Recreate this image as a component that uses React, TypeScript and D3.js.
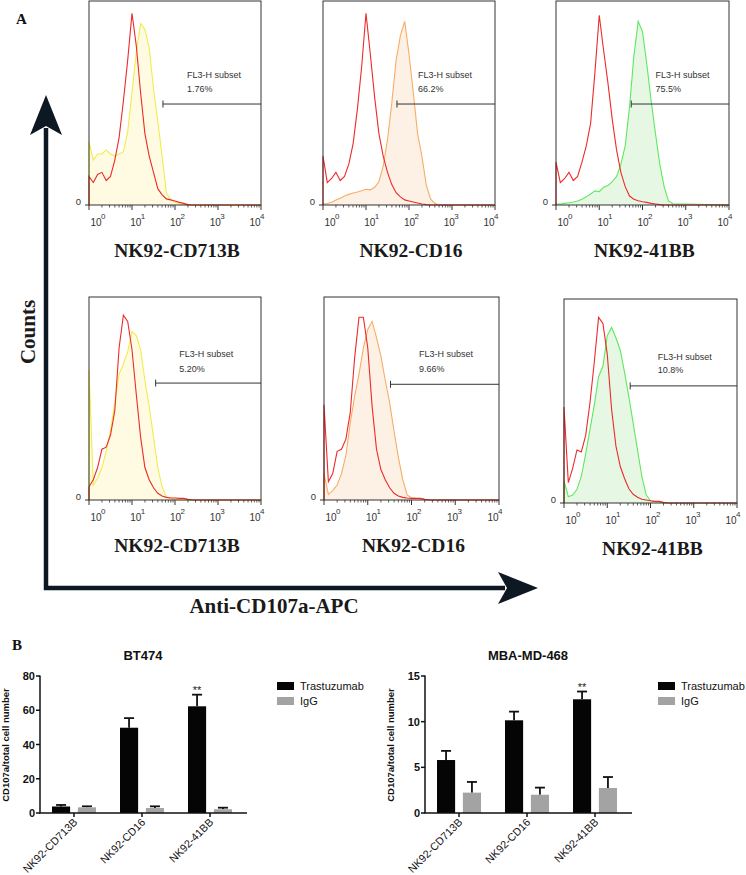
import React from 'react';
import * as d3 from 'd3';

// ---------- Panel A: flow cytometry histograms (x in log10 units, counts in % of max) ----------
const binLog = [0, 0.1, 0.2, 0.3, 0.4, 0.5, 0.6, 0.7, 0.8, 0.9, 1.0, 1.1, 1.2, 1.3, 1.4, 1.5, 1.6, 1.7, 1.8, 1.9, 2.0, 2.1, 2.2, 2.3, 2.4, 2.5, 2.6, 2.7];

const ctrlTop1 = [14, 11, 15, 16, 12, 14, 22, 33, 51, 71, 94, 78, 55, 35, 24, 16, 8, 5, 3, 2.5, 2, 1.3, 0.8, 0.2, 0, 0, 0, 0];
const stainTop1 = [31, 22, 25, 25, 27, 25, 24, 25, 26, 36, 55, 75, 89, 86, 77, 57, 41, 24, 6, 2.5, 1.3, 0.6, 0.3, 0, 0, 0, 0, 0];
const ctrlTop2 = [24, 11, 13, 16, 12, 14, 20, 30, 47, 68, 94, 74, 53, 35, 24, 16, 10, 6, 4, 2.5, 2, 1.5, 1, 0.5, 0.2, 0, 0, 0];
const stainTop2 = [0.5, 0.7, 1.3, 2.5, 3.3, 4.4, 5.2, 5.9, 6.4, 7, 7.7, 7.4, 8.7, 11.4, 19, 32, 50, 71, 83, 90, 74, 55, 35, 24, 10, 3, 0.8, 0];
const ctrlTop3 = [21, 11, 13, 16, 12, 14, 21, 29, 40, 65, 93, 76, 60, 42, 27, 16, 9, 4.4, 2.8, 2.1, 1.6, 1.3, 0.8, 0.5, 0.2, 0, 0, 0];
const stainTop3 = [0.5, 0.5, 0.8, 1.1, 1.5, 2, 2.8, 4, 5.4, 6.9, 6.5, 8.7, 9.5, 11.4, 14, 20, 29, 48, 73, 90, 85, 69, 51, 35, 20, 9, 2, 0.6];
const ctrlBot1 = [6.5, 10, 16, 25, 26, 32, 44, 75, 91, 88, 74, 52, 31, 16, 10, 6, 3.3, 2, 1.3, 1, 1, 0.8, 0.8, 0.3, 0, 0, 0, 0];
const stainBot1 = [64, 7.4, 10.7, 16, 24, 34, 48, 62, 67, 73, 83, 81, 74, 59, 46, 31, 16, 6.5, 1.6, 0.7, 0.3, 0, 0, 0, 0, 0, 0, 0];
const ctrlBot2 = [47, 9, 13, 24, 25, 30, 43, 70, 90, 90, 75, 46, 25, 15, 10, 6, 3.3, 2, 1.3, 1, 0.8, 0.8, 0.8, 0.3, 0, 0, 0, 0];
const stainBot2 = [13, 2.8, 4.6, 7.4, 13, 22, 38, 51, 62, 75, 84, 88, 80, 71, 59, 48, 34, 21, 10, 2.5, 1.1, 0.8, 0.7, 0.3, 0, 0, 0, 0];
const ctrlBot3 = [47, 10, 17, 26, 25, 33, 49, 69, 91, 88, 73, 46, 28, 18, 12, 7, 4.3, 2.8, 1.8, 1.5, 1.1, 0.8, 0.8, 0.3, 0, 0, 0, 0];
const stainBot3 = [11, 3.1, 3.9, 6.7, 13, 24, 36, 48, 62, 67, 82, 86, 81, 75, 64, 52, 39, 26, 13, 4, 1.1, 0.7, 0.5, 0, 0, 0, 0, 0];

const histTitles = ['NK92-CD713B', 'NK92-CD16', 'NK92-41BB', 'NK92-CD713B', 'NK92-CD16', 'NK92-41BB'];
const gatePercents = ['1.76%', '66.2%', '75.5%', '5.20%', '9.66%', '10.8%'];
const gateStarts = [1.72, 1.72, 1.74, 1.55, 1.52, 1.53];
const decadeExps = [0, 1, 2, 3, 4];

// ---------- Panel B: bar charts ----------
const categories = ['NK92-CD713B', 'NK92-CD16', 'NK92-41BB'];
const seriesNames = ['Trastuzumab', 'IgG'];
const bt474Tras = [3.8, 49.8, 62.3];
const bt474TrasErr = [0.9, 5.6, 6.8];
const bt474IgG = [3.3, 2.9, 2.2];
const bt474IgGErr = [0.6, 1.0, 0.9];
const bt474Ticks = [0, 20, 40, 60, 80];
const mbaTras = [5.8, 10.15, 12.45];
const mbaTrasErr = [1.0, 0.95, 0.85];
const mbaIgG = [2.23, 2.0, 2.74];
const mbaIgGErr = [1.17, 0.78, 1.2];
const mbaTicks = [0, 5, 10, 15];

const SERIF = '"Liberation Serif", "Times New Roman", serif';
const SANS = 'Arial, "Liberation Sans", sans-serif';
const NARROW = '"Liberation Sans Narrow", "Arial Narrow", Arial, "Liberation Sans", sans-serif';

type PanelLayout = { x0: number; x1: number; y0: number; y1: number; textLog: number; gateY: number; textY1: number; textY2: number };

const panelLayouts: PanelLayout[] = [
  { x0: 89, x1: 261, y0: 1, y1: 205, textLog: 2.28, gateY: 49.5, textY1: 62.3, textY2: 55.4 },
  { x0: 323, x1: 495, y0: 1, y1: 205, textLog: 2.21, gateY: 49.5, textY1: 62.3, textY2: 55.4 },
  { x0: 556, x1: 729, y0: 1, y1: 205, textLog: 2.3, gateY: 49.5, textY1: 62.3, textY2: 55.4 },
  { x0: 89, x1: 261, y0: 297, y1: 500, textLog: 2.1, gateY: 57.6, textY1: 70.4, textY2: 63 },
  { x0: 324, x1: 499, y0: 297, y1: 500, textLog: 2.17, gateY: 57, textY1: 70.4, textY2: 63 },
  { x0: 564, x1: 737, y0: 299, y1: 503, textLog: 2.17, gateY: 57.4, textY1: 70, textY2: 63.7 },
];

const curveData = [
  [ctrlTop1, stainTop1],
  [ctrlTop2, stainTop2],
  [ctrlTop3, stainTop3],
  [ctrlBot1, stainBot1],
  [ctrlBot2, stainBot2],
  [ctrlBot3, stainBot3],
];

const stainColors = [
  { line: '#f1ec4c', fill: '#fffbe2' },
  { line: '#f7ad66', fill: '#fdf0e4' },
  { line: '#5fe85f', fill: '#e6f8e4' },
  { line: '#f1ec4c', fill: '#fffbe2' },
  { line: '#f7ad66', fill: '#fdf0e4' },
  { line: '#5fe85f', fill: '#e6f8e4' },
];
const ctrlColor = '#ee2a2a';

function Hist({ idx }: { idx: number }) {
  const L = panelLayouts[idx];
  const [ctrl, stain] = curveData[idx];
  const x = d3.scaleLinear().domain([0, 4]).range([L.x0, L.x1]);
  const xl = d3.scaleLog().domain([1, 1e4]).range([L.x0, L.x1]);
  const y = d3.scaleLinear().domain([0, 100]).range([L.y1, L.y0]);
  const pts = (vals: number[]) => [[0, 0], ...binLog.map((l, i) => [l, vals[i]]), [4, 0]] as [number, number][];
  const line = d3.line<[number, number]>().x(d => x(d[0])).y(d => y(d[1]));
  const area = d3.area<[number, number]>().x(d => x(d[0])).y0(y(0)).y1(d => y(d[1]));
  const minor: number[] = [];
  for (let d = 0; d < 4; d++) for (let m = 2; m <= 9; m++) minor.push(m * Math.pow(10, d));
  const c = stainColors[idx];
  const labelStep = (L.x1 - L.x0 - 13) / 4;
  const gx = x(gateStarts[idx]);
  const gy = y(L.gateY);
  return (
    <g>
      <path d={area(pts(stain)) || ''} fill={c.fill} stroke="none" />
      <path d={line(pts(stain)) || ''} fill="none" stroke={c.line} strokeWidth={1.1} />
      <path d={line(pts(ctrl)) || ''} fill="none" stroke={ctrlColor} strokeWidth={1.1} />
      <rect x={L.x0} y={L.y0} width={L.x1 - L.x0} height={L.y1 - L.y0} fill="none" stroke="#333" strokeWidth={1} />
      {/* gate */}
      <line x1={gx} x2={L.x1} y1={gy} y2={gy} stroke="#333" strokeWidth={1} />
      <line x1={gx} x2={gx} y1={gy - 3.5} y2={gy + 3.5} stroke="#333" strokeWidth={1} />
      <text x={x(L.textLog)} y={y(L.textY1)} fontFamily={NARROW} fontSize={9} fill="#333">FL3-H subset</text>
      <text x={x(L.textLog)} y={y(L.textY2)} fontFamily={NARROW} fontSize={9} fill="#333">{gatePercents[idx]}</text>
      {/* y zero label */}
      <line x1={L.x0 - 4} x2={L.x0} y1={L.y1} y2={L.y1} stroke="#333" strokeWidth={1} />
      <text x={L.x0 - 8} y={L.y1} textAnchor="end" fontFamily={NARROW} fontSize={9.5} fill="#333">0</text>
      {/* x ticks */}
      {decadeExps.map(e => (
        <line key={'M' + e} x1={xl(Math.pow(10, e))} x2={xl(Math.pow(10, e))} y1={L.y1} y2={L.y1 + 5} stroke="#333" strokeWidth={1} />
      ))}
      {minor.map(v => (
        <line key={'m' + v} x1={xl(v)} x2={xl(v)} y1={L.y1} y2={L.y1 + 2.5} stroke="#333" strokeWidth={0.8} />
      ))}
      {decadeExps.map((e, i) => {
        const lx = L.x0 + 7 + i * labelStep;
        return (
          <g key={'t' + e}>
            <text x={lx} y={L.y1 + 21} textAnchor="middle" fontFamily={NARROW} fontSize={10} fill="#333">10</text>
            <text x={lx + 5} y={L.y1 + 14} fontFamily={NARROW} fontSize={8} fill="#333">{e}</text>
          </g>
        );
      })}
      <text x={(L.x0 + L.x1) / 2 + 2} y={L.y1 + 52} textAnchor="middle" fontFamily={SERIF} fontWeight="bold" fontSize={19.5} fill="#1a1a1a">{histTitles[idx]}</text>
    </g>
  );
}

type BarProps = {
  title: string; tras: number[]; trasErr: number[]; igg: number[]; iggErr: number[];
  yMax: number; ticks: number[]; ax: number; star: number; legendX: number;
};

function BarChart({ title, tras, trasErr, igg, iggErr, yMax, ticks, ax, star, legendX }: BarProps) {
  const yb = 813;
  const yt = 676;
  const y = d3.scaleLinear().domain([0, yMax]).range([yb, yt]);
  const xg = d3.scalePoint<string>().domain(categories).range([ax, ax + 204]).padding(0.5);
  const xs = d3.scaleBand<string>().domain(seriesNames).range([-22, 22]).paddingInner(0.3);
  const bw = xs.bandwidth();
  const vals = [tras, igg];
  const errs = [trasErr, iggErr];
  const colors = ['#050505', '#a3a3a3'];
  const axEnd = ax + 207;
  return (
    <g fontFamily={SANS}>
      <text x={ax + 103} y={660} textAnchor="middle" fontWeight="bold" fontSize={13} fill="#111">{title}</text>
      {seriesNames.map((s, si) => (
        <g key={s}>
          {categories.map((c, ci) => {
            const bx = (xg(c) as number) + (xs(s) as number);
            const v = vals[si][ci];
            const e = errs[si][ci];
            const cx = bx + bw / 2;
            return (
              <g key={c}>
                <line x1={cx} x2={cx} y1={y(v)} y2={y(v + e)} stroke="#111" strokeWidth={1.8} />
                <line x1={cx - 5} x2={cx + 5} y1={y(v + e)} y2={y(v + e)} stroke="#111" strokeWidth={1.8} />
                <rect x={bx} y={y(v)} width={bw} height={yb - y(v)} fill={colors[si]} />
              </g>
            );
          })}
        </g>
      ))}
      {/* significance */}
      <text x={(xg(categories[star]) as number) + (xs('Trastuzumab') as number) + bw / 2} y={y(tras[star] + trasErr[star]) - 1} textAnchor="middle" fontSize={11} fill="#222">**</text>
      {/* axes */}
      <line x1={ax} x2={ax} y1={yt - 0.5} y2={yb} stroke="#111" strokeWidth={1.5} />
      <line x1={ax - 0.75} x2={axEnd} y1={yb} y2={yb} stroke="#111" strokeWidth={1.5} />
      {ticks.map(t => (
        <g key={t}>
          <line x1={ax - 4} x2={ax} y1={y(t)} y2={y(t)} stroke="#111" strokeWidth={1.5} />
          <text x={ax - 5} y={y(t) + 4} textAnchor="end" fontWeight="bold" fontSize={11} fill="#111">{t}</text>
        </g>
      ))}
      {categories.map(c => (
        <g key={c}>
          <line x1={xg(c) as number} x2={xg(c) as number} y1={yb} y2={yb + 4} stroke="#111" strokeWidth={1.5} />
          <text transform={`translate(${(xg(c) as number) + 4},${yb + 10}) rotate(-45)`} textAnchor="end" fontSize={10.8} fill="#111">{c}</text>
        </g>
      ))}
      <text transform={`translate(${ax - 31},${745}) rotate(-90)`} textAnchor="middle" fontWeight="bold" fontSize={9.5} fill="#111">CD107a/total cell number</text>
      {/* legend */}
      {seriesNames.map((s, si) => (
        <g key={s}>
          <rect x={legendX} y={682 + si * 15} width={17} height={8} fill={colors[si]} />
          <text x={legendX + 23} y={690 + si * 15} fontSize={11} fill="#111">{s}</text>
        </g>
      ))}
    </g>
  );
}

export default function App() {
  const arrowColor = '#0e1822';
  return (
    <svg width={746} height={875} viewBox="0 0 746 875" style={{ position: 'absolute', left: 0, top: 0, background: '#fff' }}>
      <rect x={0} y={0} width={746} height={875} fill="#fff" />
      <text x={16} y={24} fontFamily={SERIF} fontWeight="bold" fontSize={15} fill="#111">A</text>
      {/* big axes arrows */}
      <path d="M46,128 L46,588 L505,588" fill="none" stroke={arrowColor} strokeWidth={4.5} />
      <path d="M46,95 L62,135 L46,126 L30,135 Z" fill={arrowColor} />
      <path d="M538,588 L498,572 L507,588 L498,604 Z" fill={arrowColor} />
      <text transform="translate(35,332) rotate(-90)" textAnchor="middle" fontFamily={SERIF} fontWeight="bold" fontSize={21} fill="#1a1a1a">Counts</text>
      <text x={274} y={613} textAnchor="middle" fontFamily={SERIF} fontWeight="bold" fontSize={21} fill="#1a1a1a">Anti-CD107a-APC</text>
      {panelLayouts.map((_, i) => <Hist key={i} idx={i} />)}
      <text x={12} y={650} fontFamily={SERIF} fontWeight="bold" fontSize={15} fill="#111">B</text>
      <BarChart title="BT474" tras={bt474Tras} trasErr={bt474TrasErr} igg={bt474IgG} iggErr={bt474IgGErr} yMax={80} ticks={bt474Ticks} ax={40} star={2} legendX={277} />
      <BarChart title="MBA-MD-468" tras={mbaTras} trasErr={mbaTrasErr} igg={mbaIgG} iggErr={mbaIgGErr} yMax={15} ticks={mbaTicks} ax={425} star={2} legendX={658} />
    </svg>
  );
}
